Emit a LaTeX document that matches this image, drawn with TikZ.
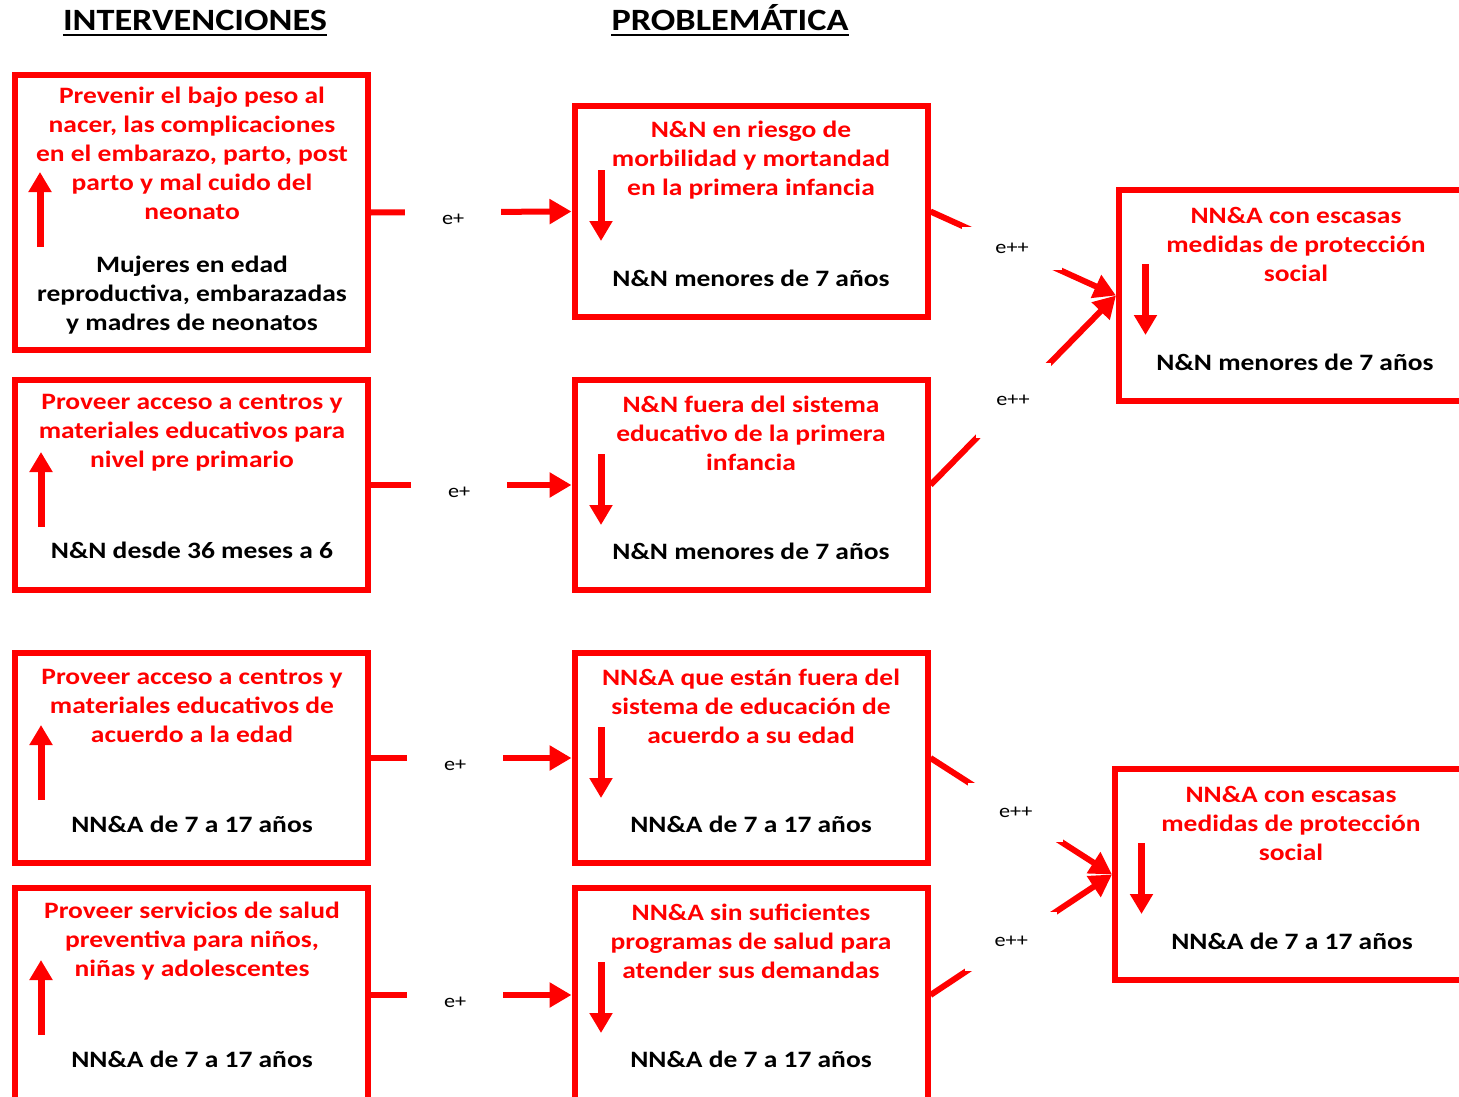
\documentclass[tikz,border=0pt]{standalone}
\usepackage{fontspec}
\setmainfont[FakeStretch=1.17]{Carlito}
\usetikzlibrary{arrows.meta, positioning, calc}
\definecolor{rojo}{RGB}{255,0,0}
\tikzset{
    box/.style={rectangle, draw=rojo, line width=6pt, minimum width=353pt, inner sep=0pt},
    aim/.style={text=rojo, font=\bfseries\fontsize{23.5}{29}\selectfont, align=center},
    group/.style={text=black, font=\bfseries\fontsize{23.5}{29}\selectfont, align=center},
    heading/.style={font=\bfseries\fontsize{31}{36}\selectfont, inner sep=0pt, anchor=base},
    link/.style={draw=rojo, line width=6pt, -{Triangle[length=22pt, width=24pt]}},
    trend/.style={draw=rojo, line width=7pt, -{Triangle[length=20pt, width=22pt]}},
    gap/.style={fill=white, inner sep=0pt, font=\fontsize{19}{19}\selectfont}
}

\begin{document}
\begin{tikzpicture}[x=1pt, y=-1pt]
    \useasboundingbox (0,0) rectangle (1459,1097);

    % Headings
    \node[heading] (hInt) at (195,31) {INTERVENCIONES};
    \node[heading] (hProb) at (730,31) {PROBLEMÁTICA};
    \foreach \h in {hInt,hProb}
        \draw[line width=2.5pt] ([yshift=-4pt]\h.base west) -- ([yshift=-4pt]\h.base east);

    % Intervenciones
    \node[box, minimum height=275pt] (L1) at (191.5,212.5) {};
    \node[box, minimum height=210pt] (L2) at (191.5,485) {};
    \node[box, minimum height=210pt] (L3) at (191.5,758) {};
    \node[box, minimum height=214pt] (L4) at (191.5,995) {};

    % Problematica
    \node[box, minimum height=211pt] (M1) at (751,211.5) {};
    \node[box, minimum height=210pt] (M2) at (751,485) {};
    \node[box, minimum height=210pt] (M3) at (751,758) {};
    \node[box, minimum height=214pt] (M4) at (751,995) {};
    \node[box, minimum height=211pt] (R1) at (1295.5,295.5) {};
    \node[box, minimum height=211pt] (R2) at (1291.5,874.5) {};

    % Texts
    \node[aim] (L1a) at (192,153) {Prevenir el bajo peso al\\nacer, las complicaciones\\en el embarazo, parto, post\\parto y mal cuido del\\neonato};
    \node[group] (L1b) at (192,295) {Mujeres en edad\\reproductiva, embarazadas\\y madres de neonatos};
    \node[aim] (L2a) at (192,433) {Proveer acceso a centros y\\materiales educativos para\\nivel pre primario};
    \node[group] (L2b) at (192,550) {N\&N desde 36 meses a 6};
    \node[aim] (L3a) at (192,706) {Proveer acceso a centros y\\materiales educativos de\\acuerdo a la edad};
    \node[group] (L3b) at (192,824) {NN\&A de 7 a 17 años};
    \node[aim] (L4a) at (192,941) {Proveer servicios de salud\\preventiva para niños,\\niñas y adolescentes};
    \node[group] (L4b) at (192,1059) {NN\&A de 7 a 17 años};

    \node[aim] (M1a) at (751,160) {N\&N en riesgo de\\morbilidad y mortandad\\en la primera infancia};
    \node[group] (M1b) at (751,278) {N\&N menores de 7 años};
    \node[aim] (M2a) at (751,433) {N\&N fuera del sistema\\educativo de la primera\\infancia};
    \node[group] (M2b) at (751,551) {N\&N menores de 7 años};
    \node[aim] (M3a) at (751,706) {NN\&A que están fuera del\\sistema de educación de\\acuerdo a su edad};
    \node[group] (M3b) at (751,824) {NN\&A de 7 a 17 años};
    \node[aim] (M4a) at (751,941) {NN\&A sin suficientes\\programas de salud para\\atender sus demandas};
    \node[group] (M4b) at (751,1059) {NN\&A de 7 a 17 años};

    \node[aim] (R1a) at (1296,244) {NN\&A con escasas\\medidas de protección\\social};
    \node[group] (R1b) at (1295,362) {N\&N menores de 7 años};
    \node[aim] (R2a) at (1291,823) {NN\&A con escasas\\medidas de protección\\social};
    \node[group] (R2b) at (1292,941) {NN\&A de 7 a 17 años};

    % Trend arrows inside the boxes
    \draw[trend] ([shift={(28,175)}]L1.north west) -- ([shift={(28,100)}]L1.north west);
    \foreach \b in {L2,L3,L4}
        \draw[trend] ([shift={(29,150)}]\b.north west) -- ([shift={(29,75)}]\b.north west);
    \draw[trend] ([shift={(29.5,67)}]M1.north west) -- ([shift={(29.5,138)}]M1.north west);
    \foreach \b in {M2,M3,M4,R1,R2}
        \draw[trend] ([shift={(29.5,77)}]\b.north west) -- ([shift={(29.5,148)}]\b.north west);

    % Effects
    \draw[link] (L1.east) -- node[gap, pos=0.41, yshift=-7pt, minimum width=96pt, minimum height=30pt] {e+} (M1.west);
    \draw[link] (L2.east) -- node[gap, pos=0.44, yshift=-7pt, minimum width=96pt, minimum height=30pt] {e+} (M2.west);
    \draw[link] (L3.east) -- node[gap, pos=0.42, yshift=-7pt, minimum width=96pt, minimum height=30pt] {e+} (M3.west);
    \draw[link] (L4.east) -- node[gap, pos=0.42, yshift=-7pt, minimum width=96pt, minimum height=30pt] {e+} (M4.west);

    \draw[link] (M1.east) -- node[gap, pos=0.44, minimum width=100pt, minimum height=43pt] {e++} (R1.west);
    \draw[link] (M2.east) -- node[gap, pos=0.445, minimum width=75pt, minimum height=75pt] {e++} (R1.west);
    \draw[link] (M3.east) -- node[gap, pos=0.47, minimum width=95pt, minimum height=59pt] {e++} (R2.west);
    \draw[link] (M4.east) -- node[gap, pos=0.445, minimum width=92pt, minimum height=59pt] {e++} (R2.west);

\end{tikzpicture}
\end{document}
